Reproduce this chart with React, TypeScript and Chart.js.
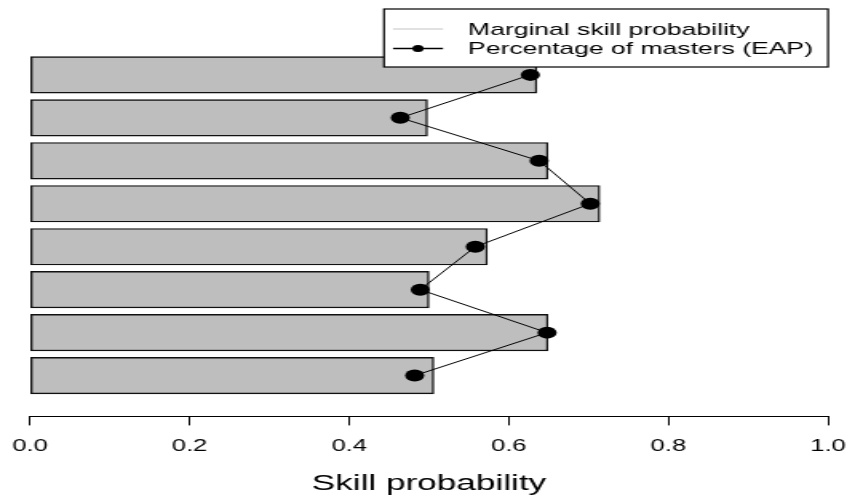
import React, { useEffect, useRef } from 'react';
import { Chart, registerables } from 'chart.js';

Chart.register(...registerables);

// ---- data (top bar first) ----
const skillLabels = ['Skill 1', 'Skill 2', 'Skill 3', 'Skill 4', 'Skill 5', 'Skill 6', 'Skill 7', 'Skill 8'];
const skillPositions = [1, 2, 3, 4, 5, 6, 7, 8];
const marginalProb = [0.635, 0.498, 0.649, 0.714, 0.573, 0.5, 0.649, 0.506];
const eapMasters = [0.627, 0.464, 0.638, 0.702, 0.558, 0.489, 0.648, 0.482];
const xTickValues = [0, 0.2, 0.4, 0.6, 0.8, 1.0];
const legendLabels = ['Marginal skill probability', 'Percentage of masters (EAP)'];
const axisTitle = 'Skill probability';

// The reference is an R plot stretched horizontally; draw on a narrower
// canvas and stretch it with CSS.
const CSS_W = 847;
const CSS_H = 497;
const INT_W = 530;
const SX = CSS_W / INT_W;
const FONT = '"Liberation Sans", Arial, Helvetica, sans-serif';

const legendPlugin = {
  id: 'rLegend',
  afterDraw(chart: any) {
    const ctx = chart.ctx as CanvasRenderingContext2D;
    ctx.save();
    const bx = 384 / SX;
    const bw = (828 - 384) / SX;
    const by = 9;
    const bh = 58;
    ctx.fillStyle = '#ffffff';
    ctx.fillRect(bx, by, bw, bh);
    ctx.strokeStyle = '#000000';
    ctx.lineWidth = 1.2;
    ctx.strokeRect(bx, by, bw, bh);

    const x0 = 393 / SX;
    const x1 = 443 / SX;
    const rows = [29, 48.5];
    ctx.strokeStyle = '#c4c4c4';
    ctx.lineWidth = 1.2;
    ctx.beginPath();
    ctx.moveTo(x0, rows[0]);
    ctx.lineTo(x1, rows[0]);
    ctx.stroke();
    ctx.strokeStyle = '#000000';
    ctx.lineWidth = 1.5;
    ctx.beginPath();
    ctx.moveTo(x0, rows[1]);
    ctx.lineTo(x1, rows[1]);
    ctx.stroke();
    ctx.fillStyle = '#000000';
    ctx.beginPath();
    ctx.arc((x0 + x1) / 2, rows[1], 3.5, 0, Math.PI * 2);
    ctx.fill();

    ctx.fillStyle = '#000000';
    ctx.font = `16.6px ${FONT}`;
    ctx.textBaseline = 'middle';
    ctx.textAlign = 'left';
    const tx = 468 / SX;
    ctx.fillText(legendLabels[0], tx, rows[0] + 1);
    ctx.fillText(legendLabels[1], tx, rows[1] + 1);
    ctx.restore();
  },
};

export default function App() {
  const canvasRef = useRef<HTMLCanvasElement | null>(null);

  useEffect(() => {
    document.body.style.margin = '0';
    const canvas = canvasRef.current;
    if (!canvas) return;

    const barData = skillPositions.map((p, i) => ({ x: marginalProb[i], y: p }));
    const lineData = skillPositions.map((p, i) => ({ x: eapMasters[i], y: p }));

    const chart = new Chart(canvas, {
      type: 'bar',
      data: {
        labels: skillLabels,
        datasets: [
          {
            type: 'bar',
            label: legendLabels[0],
            data: barData as any,
            backgroundColor: '#bebebe',
            borderColor: '#111111',
            borderWidth: 1.4,
            borderSkipped: false,
            barThickness: 36.5,
            order: 2,
          },
          {
            type: 'line',
            label: legendLabels[1],
            data: lineData as any,
            borderColor: '#000000',
            borderWidth: 1,
            pointRadius: 6,
            pointBackgroundColor: '#000000',
            pointBorderColor: '#000000',
            pointBorderWidth: 0,
            fill: false,
            tension: 0,
            order: 1,
          },
        ],
      },
      options: {
        indexAxis: 'y',
        responsive: false,
        animation: false,
        devicePixelRatio: 1,
        layout: {
          autoPadding: false,
          padding: { top: 53.4, left: 30 / SX, right: CSS_W / SX - 828 / SX, bottom: 0 },
        },
        plugins: {
          legend: { display: false },
          tooltip: { enabled: false },
        },
        scales: {
          y: {
            type: 'linear',
            reverse: true,
            offset: false,
            min: 0.5,
            max: 8.95,
            display: false,
          },
          x: {
            type: 'linear',
            min: 0,
            max: 1,
            afterBuildTicks: (scale: any) => {
              scale.ticks = xTickValues.map((v) => ({ value: v }));
            },
            afterFit: (scale: any) => {
              scale.paddingLeft = 0;
              scale.paddingRight = 0;
            },
            ticks: {
              color: '#000000',
              font: { family: FONT, size: 16 },
              padding: 12,
              maxRotation: 0,
              autoSkip: false,
              callback: (v: any) => Number(v).toFixed(1),
            },
            grid: {
              display: true,
              drawOnChartArea: false,
              drawTicks: true,
              tickLength: 9,
              color: '#000000',
              lineWidth: 1,
            },
            border: { display: true, color: '#000000', width: 1 },
            title: {
              display: true,
              text: axisTitle,
              color: '#000000',
              font: { family: FONT, size: 22 },
              padding: { top: 2, bottom: 0 },
            },
          },
        },
      },
      plugins: [legendPlugin],
    });

    return () => chart.destroy();
  }, []);

  return (
    <div style={{ width: CSS_W, height: CSS_H, background: '#ffffff' }}>
      <canvas
        ref={canvasRef}
        width={INT_W}
        height={CSS_H}
        style={{ width: `${CSS_W}px`, height: `${CSS_H}px`, display: 'block' }}
      />
    </div>
  );
}
